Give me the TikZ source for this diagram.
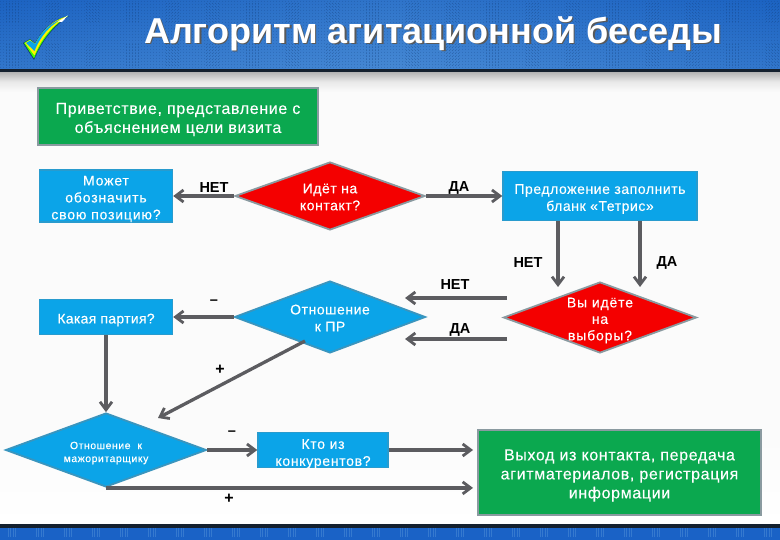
\documentclass[tikz,border=0pt]{standalone}
\usepackage{fontspec}
\setmainfont{Liberation Sans}
\newcommand{\ftx}[3]{\fontsize{#1}{#2}\selectfont\addfontfeature{LetterSpace=#3,FakeBold=0.25}}
\usetikzlibrary{shapes.geometric,arrows.meta,calc}
\definecolor{hblue}{HTML}{1C63C2}
\definecolor{hlight}{HTML}{5596DA}
\definecolor{fblue}{HTML}{1A62C6}
\definecolor{dk}{HTML}{14202E}
\definecolor{grn}{HTML}{0BA84F}
\definecolor{sky}{HTML}{0BA4E8}
\definecolor{rd}{HTML}{F40000}
\definecolor{edge}{HTML}{8A9AA0}
\definecolor{ln}{HTML}{5C5C60}
\tikzset{
  x=1pt,y=-1pt,
  boxn/.style={rectangle,draw=edge,line width=1.4pt,inner sep=0pt,anchor=center},
  grnbox/.style={boxn,fill=grn},
  skybox/.style={boxn,fill=sky,draw=sky!75!gray},
  dia/.style={diamond,line width=1.8pt,draw=edge,inner sep=0pt,aspect=2.7},
  reddia/.style={dia,fill=rd},
  skydia/.style={dia,fill=sky,draw=sky!60!gray},
  dtxt/.style={text=white,align=center,yshift=-1pt},
  btxt/.style={text=white,align=center,yshift=-3pt},
  conn/.style={draw=ln,line width=3.3pt,-{Straight Barb[length=8pt,width=12pt,line width=2.8pt]}},
  lab/.style={font=\fontsize{14.5}{14.5}\selectfont\bfseries,text=black,inner sep=0pt},
}
\begin{document}
\begin{tikzpicture}
\useasboundingbox (0,0) rectangle (780,540);
% background
\fill[black!1.5] (0,0) rectangle (780,540);
\shade[top color=black!32,bottom color=black!1.5,middle color=black!9] (0,71) rectangle (780,92);
\shade[top color=black!1.5,bottom color=white] (0,440) rectangle (780,524);
% header
\shade[left color=hblue,right color=hblue,middle color=hlight] (0,0) rectangle (780,70);
\shade[top color=hblue,bottom color=hblue!40!hlight,opacity=.65] (0,0) rectangle (780,70);
\foreach \gx in {0,3,...,780}{
  \draw[hblue!70!black,line width=1pt,dash pattern=on 1pt off 2pt,opacity=.28] (\gx,1) -- (\gx,69);
}
\foreach \gx in {6,46,...,766}{
  \foreach \sx in {0,3,6,9,12}{
    \draw[hblue!60!black,line width=1pt,dash pattern=on 1pt off 2pt,opacity=.35] (\gx+\sx,3) -- (\gx+\sx,24) (\gx+\sx,44) -- (\gx+\sx,66);
  }
}
\fill[dk] (0,69.5) rectangle (780,72);
% footer
\fill[dk] (0,524) rectangle (780,527.5);
\fill[fblue] (0,527.5) rectangle (780,540);
\foreach \gx in {8,36,...,770}{
  \foreach \sx in {0,2.5,5,7.5}{
    \draw[hlight!45!fblue,line width=1pt] (\gx+\sx,528) -- (\gx+\sx,537);
  }
}
% check mark
\fill[hblue!55!black] (23,43) -- (34,60) .. controls (42,40) and (54,26) .. (69,16) .. controls (52,20) and (42,30) .. (35,43) -- (30,39) -- cycle;
\fill[green!75!yellow] (24,43) -- (34,58.5) .. controls (42,39) and (54,25) .. (68,16) .. controls (52,20.5) and (42,31) .. (35,44) -- (30,39.5) -- cycle;
\fill[yellow] (25,43) -- (34.5,55.5) .. controls (42,37) and (53,25) .. (67,16.5) .. controls (52,20.5) and (42,31) .. (35,44) -- (30,40) -- cycle;
\fill[sky] (26,43) -- (34.5,51) .. controls (41,35) and (50,26) .. (60,20) .. controls (50,23.5) and (41,32) .. (35,44) -- (30,40.5) -- cycle;
\fill[white] (68,15.5) -- (62,22) -- (58,21.5) -- cycle;
% title
\node[font=\fontsize{36}{36}\selectfont\bfseries,text=black!65,inner sep=0pt] at (434.5,34.5) {Алгоритм агитационной беседы};
\node[font=\fontsize{36}{36}\selectfont\bfseries,text=white,inner sep=0pt] (title) at (433,33.5) {Алгоритм агитационной беседы};
% connector ends
\coordinate (votenU) at (507,298);
\coordinate (voteyD) at (507,339);
\coordinate (prnU) at (405,298);
\coordinate (pryD) at (405,339);
\coordinate (diagS) at (305,341);
\coordinate (diagE) at (158,418);
\coordinate (tNo) at (558,287);
\coordinate (tYes) at (640,287);
\coordinate (exitA) at (473,450);
\coordinate (exitB) at (473,487);
% nodes
\node[grnbox,minimum width=280pt,minimum height=57pt,label={[btxt,font=\ftx{16}{19}{4}]center:Приветствие, представление с\\объяснением цели визита}] (greet) at (178,116.5) {};
\node[skybox,minimum width=133pt,minimum height=52pt,label={[btxt,font=\ftx{14}{17}{6}]center:Может\\обозначить\\свою позицию?}] (pos) at (106,196) {};
\node[reddia,minimum width=190pt,minimum height=68pt,label={[dtxt,font=\ftx{14}{17}{4}]center:Идёт на\\контакт?}] (contact) at (330,196) {};
\node[skybox,minimum width=194pt,minimum height=49pt,label={[btxt,font=\ftx{14}{17}{4}]center:Предложение заполнить\\бланк «Тетрис»}] (offer) at (600,196) {};
\node[reddia,minimum width=193pt,minimum height=71pt,label={[btxt,font=\ftx{14}{16.5}{6}]center:Вы идёте\\на\\выборы?}] (vote) at (600,317.5) {};
\node[skydia,minimum width=191pt,minimum height=72pt,label={[dtxt,font=\ftx{14}{17}{4}]center:Отношение\\к ПР}] (pr) at (330,317) {};
\node[skybox,minimum width=133pt,minimum height=35pt,label={[btxt,font=\ftx{14}{17}{2}]center:Какая партия?}] (party) at (106,317) {};
\node[skydia,minimum width=201pt,minimum height=74pt,label={[btxt,font=\ftx{10.5}{13}{5}]center:Отношение\ \ к\\мажоритарщику}] (major) at (106,450) {};
\node[skybox,minimum width=130pt,minimum height=35pt,label={[btxt,yshift=-1pt,font=\ftx{14}{17}{5}]center:Кто из\\конкурентов?}] (rival) at (323,450) {};
\node[grnbox,minimum width=283pt,minimum height=85pt,label={[btxt,font=\ftx{16}{19}{4}]center:Выход из контакта, передача\\агитматериалов, регистрация\\информации}] (exit) at (619.5,472.5) {};
% connectors
\draw[conn] (contact.west) -- (pos.east);
\draw[conn] (contact.east) -- (offer.west);
\draw[conn] (offer.south -| tNo) -- (tNo);
\draw[conn] (offer.south -| tYes) -- (tYes);
\draw[conn] (votenU) -- (prnU);
\draw[conn] (voteyD) -- (pryD);
\draw[conn] (pr.west) -- (party.east);
\draw[conn] (party.south) -- (major.north);
\draw[conn] (diagS) -- (diagE);
\draw[conn] (major.east) -- (rival.west);
\draw[conn] (rival.east) -- (exitA);
\draw[conn] (major.south) -- (major.south -| exitB);
% labels
\node[lab] (l1) at (214,187.5) {НЕТ};
\node[lab] (l2) at (459,187.5) {ДА};
\node[lab] (l3) at (528,263) {НЕТ};
\node[lab] (l4) at (667,263) {ДА};
\node[lab] (l5) at (455,285) {НЕТ};
\node[lab] (l6) at (460,330) {ДА};
\node[lab] (l7) at (214,302.5) {–};
\node[lab,font=\fontsize{16}{16}\selectfont\bfseries] (l8) at (220,370) {+};
\node[lab] (l9) at (232,433.5) {–};
\node[lab,font=\fontsize{16}{16}\selectfont\bfseries] (l10) at (229,499) {+};
\end{tikzpicture}
\end{document}
